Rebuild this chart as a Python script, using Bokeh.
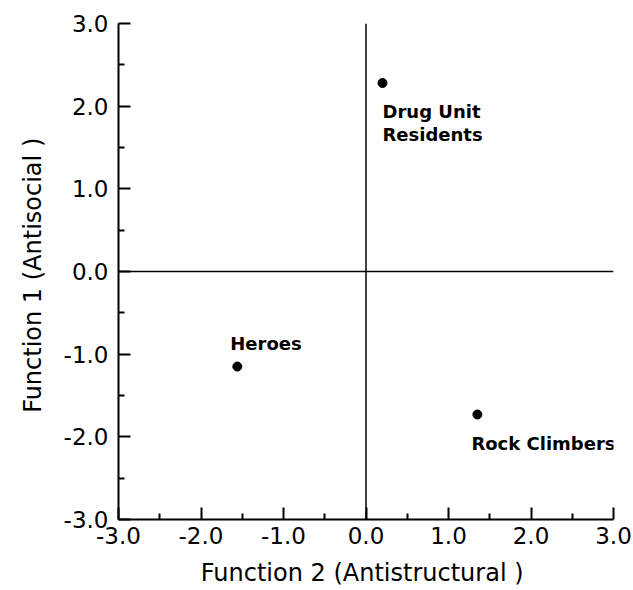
from bokeh.plotting import figure
from bokeh.models import Range1d, FixedTicker, PrintfTickFormatter, Span, ColumnDataSource
from bokeh.core.properties import value
from bokeh.embed import file_html
from bokeh.resources import INLINE

# Data
groups = ["Drug Unit\nResidents", "Heroes", "Rock Climbers"]
function2 = [0.2, -1.56, 1.35]
function1 = [2.28, -1.15, -1.73]
major_ticks = [-3, -2, -1, 0, 1, 2, 3]
minor_ticks = [-2.5, -1.5, -0.5, 0.5, 1.5, 2.5]

# Label placement (style)
label_dx = [0, -7, -6]
label_dy = [18, -13, 18]
label_baseline = ["top", "bottom", "top"]

FONT = "DejaVu Sans"

p = figure(width=633, height=590, output_backend="svg", toolbar_location=None,
           x_range=Range1d(-3, 3), y_range=Range1d(-3, 3),
           min_border_left=118, min_border_right=20, min_border_top=23, min_border_bottom=71)
p.outline_line_color = None
p.xgrid.visible = False
p.ygrid.visible = False
p.background_fill_color = "white"
p.border_fill_color = "white"

for ax in (p.xaxis[0], p.yaxis[0]):
    ax.ticker = FixedTicker(ticks=major_ticks, minor_ticks=minor_ticks)
    ax.formatter = PrintfTickFormatter(format="%.1f")
    ax.axis_line_width = 2
    ax.axis_line_color = "black"
    ax.major_tick_line_width = 2
    ax.minor_tick_line_width = 2
    ax.major_tick_line_color = "black"
    ax.minor_tick_line_color = "black"
    ax.major_tick_in = 12
    ax.major_tick_out = 0
    ax.minor_tick_in = 6
    ax.minor_tick_out = 0
    ax.major_label_text_font = FONT
    ax.major_label_text_font_size = "23px"
    ax.major_label_text_color = "black"
    ax.axis_label_text_font = FONT
    ax.axis_label_text_font_size = "24px"
    ax.axis_label_text_font_style = "normal"
    ax.axis_label_text_color = "black"

p.xaxis.axis_label = "Function 2  (Antistructural )"
p.yaxis.axis_label = "Function 1  (Antisocial )"
p.xaxis.major_label_standoff = 7
p.xaxis.axis_label_standoff = 12
p.yaxis.major_label_standoff = 10
p.yaxis.axis_label_standoff = 14

p.add_layout(Span(location=0, dimension="height", line_color="black", line_width=1.5))
p.add_layout(Span(location=0, dimension="width", line_color="black", line_width=1.5))

src = ColumnDataSource(dict(x=function2, y=function1, name=groups,
                            dx=label_dx, dy=label_dy, bl=label_baseline))
p.scatter("x", "y", source=src, size=9, color="black")
p.text("x", "y", text="name", source=src, x_offset="dx", y_offset="dy",
       text_baseline="bl", text_align="left", text_font=value(FONT),
       text_font_size="18px", text_font_style="bold", text_color="black",
       text_line_height=1.1)

open("out.html", "w").write(file_html(p, INLINE))
